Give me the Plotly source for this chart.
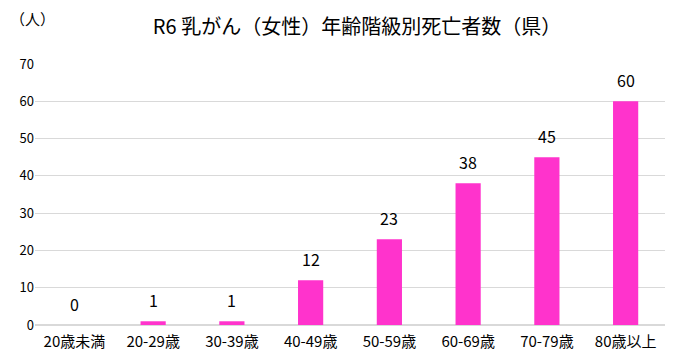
import plotly.graph_objects as go

categories = ["20歳未満", "20-29歳", "30-39歳", "40-49歳", "50-59歳", "60-69歳", "70-79歳", "80歳以上"]
deaths = [0, 1, 1, 12, 23, 38, 45, 60]
y_ticks = [0, 10, 20, 30, 40, 50, 60, 70]
title_text = "R6 乳がん（女性）年齢階級別死亡者数（県）"
unit_text = "（人）"

FONT = "Noto Sans CJK JP"

W, H = 669, 350
L, R, T, B = 27, 12, 56, 33
PW, PH = W - L - R, H - T - B

fig = go.Figure(go.Bar(
    x=categories,
    y=deaths,
    marker=dict(color="#FF33CC", line=dict(width=0)),
    width=0.32,
))

annotations = [dict(text=unit_text, xref="paper", yref="paper", x=(0 - L) / PW, y=1 + 46 / PH,
                    xanchor="left", yanchor="middle", showarrow=False,
                    font=dict(family=FONT, size=15, color="#000000"))]
for c, v in zip(categories, deaths):
    annotations.append(dict(x=c, y=v, text=str(v), showarrow=False, yanchor="middle",
                            yshift=21, font=dict(family=FONT, size=16, color="#000000")))

fig.update_layout(
    width=W, height=H,
    margin=dict(l=L, r=R, t=T, b=B, autoexpand=False),
    paper_bgcolor="white", plot_bgcolor="white",
    font=dict(family=FONT, size=13, color="#000000"),
    showlegend=False,
    title=dict(text=title_text, x=349 / W, xanchor="center", y=1 - 19 / H, yanchor="middle",
               font=dict(family=FONT, size=20, color="#000000")),
    annotations=annotations,
)
fig.update_xaxes(showline=False, ticks="", tickfont=dict(size=15), automargin=False,
                 ticklabelstandoff=6)
fig.update_yaxes(range=[0, 70], tickvals=y_ticks, showgrid=True, gridcolor="#D9D9D9",
                 gridwidth=1, zeroline=True, zerolinecolor="#D9D9D9", ticks="",
                 tickfont=dict(size=13), showline=False, automargin=False)

fig.write_html("out.html")
